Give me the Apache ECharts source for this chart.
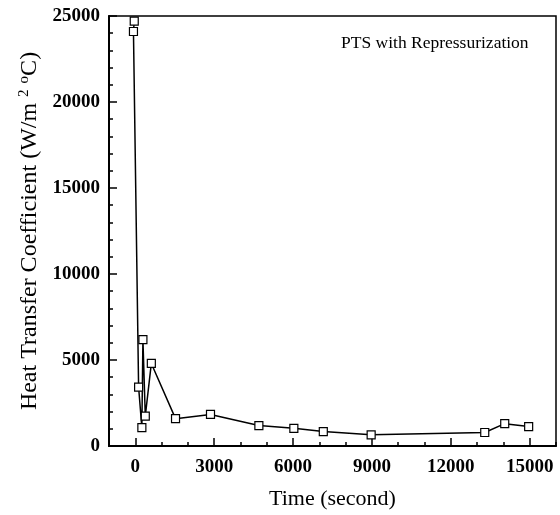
<!DOCTYPE html>
<html>
<head>
<meta charset="utf-8">
<script src="https://cdn.jsdelivr.net/npm/echarts@6/dist/echarts.min.js"></script>
<style>
html,body{margin:0;padding:0;background:#fff;}
#chart{width:560px;height:515px;}
</style>
</head>
<body>
<div id="chart"></div>
<script>
// Data
const timeSec = [-40, -70, 126, 250, 290, 380, 610, 1530, 2860, 4700, 6030, 7150, 8970, 13290, 14050, 14960];
const htc     = [24700, 24100, 3420, 1070, 6190, 1740, 4800, 1590, 1835, 1190, 1030, 840, 650, 785, 1300, 1130];
const xMajorTicks = [0, 3000, 6000, 9000, 12000, 15000];
const xMinorTicks = [-1000,0,1000,2000,3000,4000,5000,6000,7000,8000,9000,10000,11000,12000,13000,14000,15000,16000];
const chartTitle = 'PTS with Repressurization';
const xName = 'Time (second)';
const yName = 'Heat Transfer Coefficient (W/m {sup|2} {sup|o}C)';

const serif = '"Liberation Serif", "DejaVu Serif", serif';
const points = timeSec.map((t, i) => [t, htc[i]]);
const plain = v => String(v);

const chart = echarts.init(document.getElementById('chart'), null, {renderer: 'canvas'});
chart.setOption({
  animation: false,
  backgroundColor: '#fff',
  title: {
    text: chartTitle,
    left: 336, top: 29,
    textStyle: {fontFamily: serif, fontSize: 17.5, fontWeight: 'normal', color: '#000'}
  },
  grid: {
    left: 109, right: 4, top: 16, bottom: 63,
    show: true, borderColor: '#000', borderWidth: 1.5, backgroundColor: 'transparent'
  },
  xAxis: [{
    type: 'value', min: -1000, max: 16000,
    name: xName, nameLocation: 'middle', nameGap: 42,
    nameTextStyle: {fontFamily: serif, fontSize: 22, color: '#000'},
    axisLine: {show: true, onZero: false, lineStyle: {color: '#000', width: 2}},
    axisTick: {show: true, inside: true, length: 8, customValues: xMajorTicks, lineStyle: {color: '#000', width: 1.5}},
    axisLabel: {customValues: xMajorTicks, formatter: plain, margin: 12, fontFamily: serif, fontSize: 19, fontWeight: 'bold', color: '#000'},
    splitLine: {show: false}
  }, {
    type: 'value', min: -1000, max: 16000, position: 'bottom',
    axisLine: {show: false, onZero: false},
    axisTick: {show: true, inside: true, length: 4, customValues: xMinorTicks, lineStyle: {color: '#000', width: 1.5}},
    axisLabel: {show: false},
    splitLine: {show: false}
  }],
  yAxis: {
    type: 'value', min: 0, max: 25000, interval: 5000,
    name: yName, nameLocation: 'middle', nameGap: 65, nameRotate: 90,
    nameTextStyle: {
      fontFamily: serif, fontSize: 24, color: '#000',
      rich: {sup: {fontFamily: serif, fontSize: 15, verticalAlign: 'top', color: '#000', padding: [0,0,12,0]}}
    },
    axisLine: {show: true, onZero: false, lineStyle: {color: '#000', width: 2}},
    axisTick: {show: true, inside: true, length: 8, lineStyle: {color: '#000', width: 1.5}},
    minorTick: {show: true, splitNumber: 5, length: 4, lineStyle: {color: '#000', width: 1.5}},
    axisLabel: {formatter: plain, margin: 9, fontFamily: serif, fontSize: 19, fontWeight: 'bold', color: '#000'},
    splitLine: {show: false}
  },
  series: [{
    type: 'line',
    data: points,
    xAxisIndex: 0,
    symbol: 'rect', symbolSize: 8,
    itemStyle: {color: '#fff', borderColor: '#000', borderWidth: 1.2},
    lineStyle: {color: '#000', width: 1.5},
    z: 5
  }]
});
</script>
</body>
</html>
